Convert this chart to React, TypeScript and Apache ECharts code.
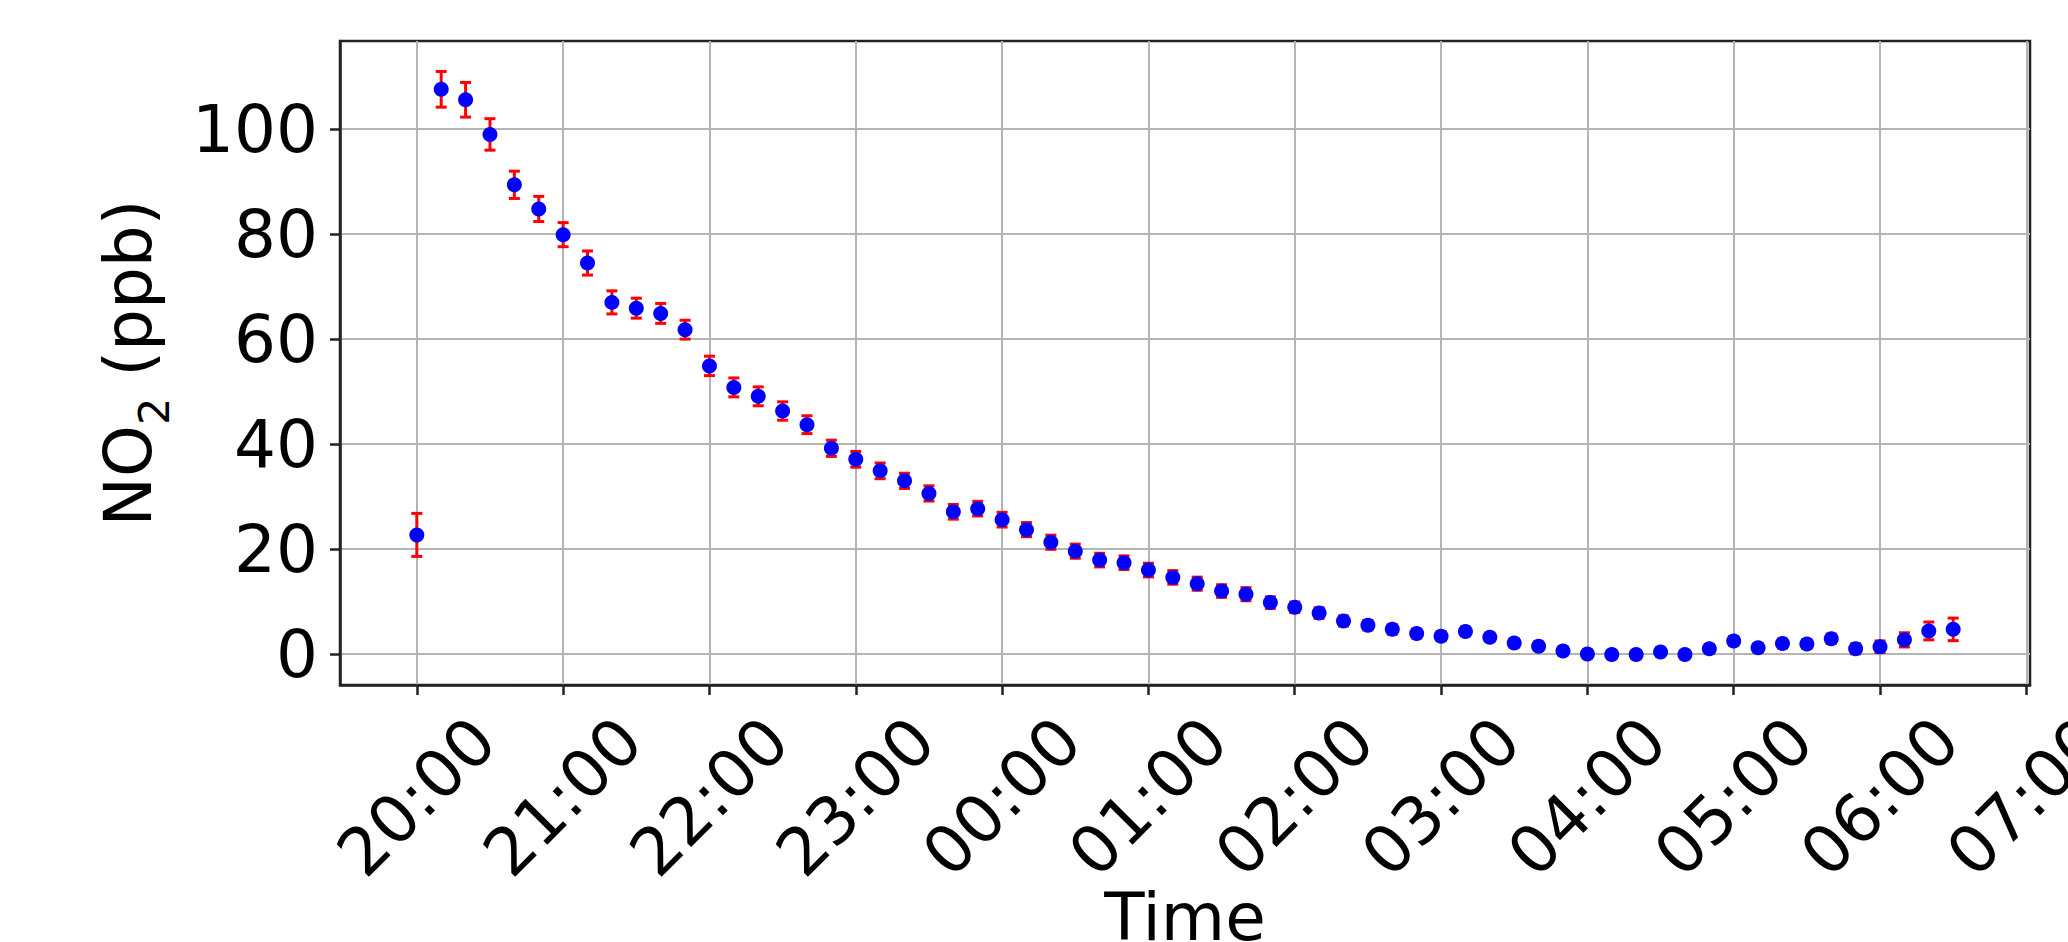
import React, { useEffect, useRef } from "react";
import * as echarts from "echarts";

const times = [
  "20:00","20:10","20:20","20:30","20:40","20:50",
  "21:00","21:10","21:20","21:30","21:40","21:50",
  "22:00","22:10","22:20","22:30","22:40","22:50",
  "23:00","23:10","23:20","23:30","23:40","23:50",
  "00:00","00:10","00:20","00:30","00:40","00:50",
  "01:00","01:10","01:20","01:30","01:40","01:50",
  "02:00","02:10","02:20","02:30","02:40","02:50",
  "03:00","03:10","03:20","03:30","03:40","03:50",
  "04:00","04:10","04:20","04:30","04:40","04:50",
  "05:00","05:10","05:20","05:30","05:40","05:50",
  "06:00","06:10","06:20","06:30",
];

const no2 = [
  22.7, 107.6, 105.6, 99.0, 89.4, 84.8,
  79.9, 74.5, 67.0, 65.9, 64.9, 61.8,
  54.9, 50.8, 49.1, 46.3, 43.7, 39.2,
  37.1, 34.9, 33.0, 30.6, 27.1, 27.7,
  25.6, 23.7, 21.3, 19.6, 17.9, 17.4,
  16.0, 14.6, 13.4, 12.0, 11.4, 9.8,
  8.9, 7.8, 6.3, 5.5, 4.7, 3.9,
  3.4, 4.3, 3.2, 2.1, 1.5, 0.6,
  0.0, -0.1, -0.1, 0.4, -0.1, 1.0,
  2.5, 1.2, 2.0, 1.9, 2.9, 1.0,
  1.4, 2.7, 4.4, 4.7,
];

const no2Err = [
  4.1, 3.4, 3.3, 3.0, 2.6, 2.4,
  2.3, 2.3, 2.2, 1.9, 1.9, 1.8,
  1.85, 1.8, 1.8, 1.75, 1.7, 1.55,
  1.5, 1.5, 1.45, 1.45, 1.4, 1.4,
  1.4, 1.35, 1.35, 1.35, 1.3, 1.3,
  1.3, 1.3, 1.25, 1.2, 1.25, 1.1,
  1.0, 1.0, 0.95, 0.9, 0.9, 0.85,
  0.85, 0.85, 0.8, 0.8, 0.8, 0.8,
  0.8, 0.8, 0.8, 0.8, 0.8, 0.8,
  0.85, 0.8, 0.85, 0.85, 0.9, 0.95,
  1.1, 1.35, 1.7, 2.15,
];

const xTickLabels = [
  "20:00","21:00","22:00","23:00","00:00","01:00",
  "02:00","03:00","04:00","05:00","06:00","07:00",
];

const yTicks = [0, 20, 40, 60, 80, 100];

// minutes elapsed since 20:00
const toMin = (t: string) => {
  const [h, m] = t.split(":").map(Number);
  return (h < 20 ? h + 24 : h) * 60 + m - 20 * 60;
};
const fromMin = (v: number) => {
  const total = Math.round(v) + 20 * 60;
  const h = Math.floor(total / 60) % 24;
  const m = total % 60;
  return String(h).padStart(2, "0") + ":" + String(m).padStart(2, "0");
};

const FONT = "DejaVu Sans";
const FS = 66;

export default function App() {
  const ref = useRef<HTMLDivElement>(null);

  useEffect(() => {
    if (!ref.current) return;
    const chart = echarts.init(ref.current, undefined, { renderer: "svg" });

    const xs = times.map(toMin);
    const points = xs.map((x, i) => [x, no2[i]]);
    const bars = xs.map((x, i) => [x, no2[i] - no2Err[i], no2[i] + no2Err[i]]);
    const xTickVals = xTickLabels.map(toMin);

    const option: any = {
      animation: false,
      backgroundColor: "#ffffff",
      grid: {
        left: 340,
        right: 38,
        top: 41,
        bottom: 257,
        outerBoundsMode: "none",
        containLabel: false,
        show: true,
        borderColor: "#222222",
        borderWidth: 2.5,
        backgroundColor: "transparent",
      },
      xAxis: {
        type: "value",
        min: -31.5,
        max: 661.5,
        name: "Time",
        nameLocation: "middle",
        nameGap: 199,
        nameMoveOverlap: false,
        nameTextStyle: { fontFamily: FONT, fontSize: FS, color: "#000" },
        axisLine: { show: true, onZero: false, lineStyle: { color: "#222", width: 2.5 } },
        axisTick: {
          show: true,
          length: 10,
          customValues: xTickVals,
          lineStyle: { color: "#222", width: 2.5 },
        },
        axisLabel: {
          customValues: xTickVals,
          rotate: 45,
          align: "center",
          verticalAlign: "middle",
          margin: 112,
          fontFamily: FONT,
          fontSize: FS,
          color: "#000",
          formatter: (v: number) => fromMin(v),
        },
        splitLine: { show: true, lineStyle: { color: "#b4b4b4", width: 2 } },
      },
      yAxis: {
        type: "value",
        min: -5.9,
        max: 116.8,
        name: "{a|NO}{b|2}{a| (ppb)}",
        nameLocation: "middle",
        nameGap: 165,
        nameRotate: 90,
        nameMoveOverlap: false,
        nameTextStyle: {
          fontFamily: FONT,
          color: "#000",
          rich: {
            a: { fontFamily: FONT, fontSize: FS, lineHeight: 80, verticalAlign: "top", color: "#000" },
            b: { fontFamily: FONT, fontSize: 43, lineHeight: 42, verticalAlign: "bottom", color: "#000" },
          },
        },
        axisLine: { show: true, onZero: false, lineStyle: { color: "#222", width: 2.5 } },
        axisTick: {
          show: true,
          length: 10,
          customValues: yTicks,
          lineStyle: { color: "#222", width: 2.5 },
        },
        axisLabel: {
          customValues: yTicks,
          margin: 22,
          fontFamily: FONT,
          fontSize: FS,
          color: "#000",
        },
        splitLine: { show: true, lineStyle: { color: "#b4b4b4", width: 2 } },
      },
      series: [
        {
          type: "custom",
          name: "error",
          data: bars,
          encode: { x: 0, y: [1, 2] },
          z: 2,
          renderItem: (params: any, api: any) => {
            const x = api.value(0);
            const lo = api.value(1);
            const hi = api.value(2);
            const top = api.coord([x, hi]);
            const bot = api.coord([x, lo]);
            const hw = 5.5;
            const style = { stroke: "#ff0000", lineWidth: 3 };
            return {
              type: "group",
              children: [
                { type: "line", shape: { x1: top[0], y1: top[1], x2: bot[0], y2: bot[1] }, style },
                { type: "line", shape: { x1: top[0] - hw, y1: top[1], x2: top[0] + hw, y2: top[1] }, style },
                { type: "line", shape: { x1: bot[0] - hw, y1: bot[1], x2: bot[0] + hw, y2: bot[1] }, style },
              ],
            };
          },
        },
        {
          type: "scatter",
          name: "NO2",
          data: points,
          symbol: "circle",
          symbolSize: 15,
          z: 3,
          itemStyle: { color: "#0000ff", opacity: 1 },
        },
      ],
    };

    chart.setOption(option);
    return () => chart.dispose();
  }, []);

  return (
    <div
      ref={ref}
      style={{ position: "fixed", left: 0, top: 0, width: 2068, height: 942, background: "#fff" }}
    />
  );
}
